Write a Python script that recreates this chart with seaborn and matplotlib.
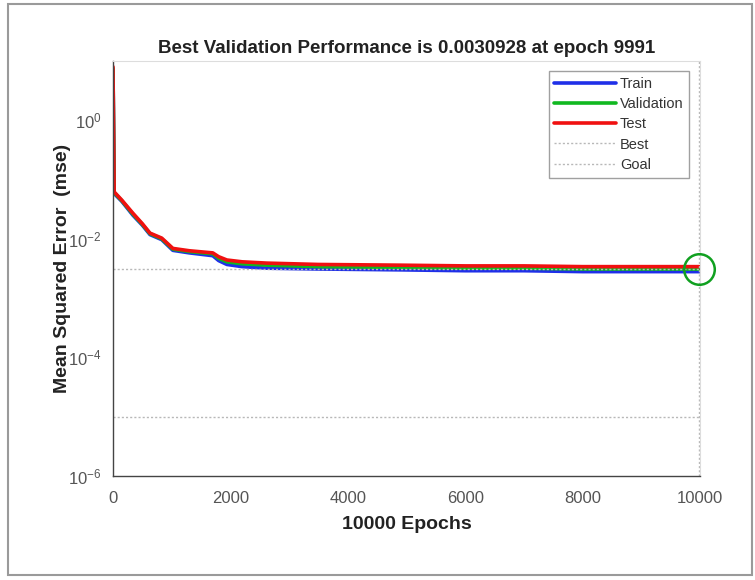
import numpy as np
import pandas as pd
import matplotlib
matplotlib.use("Agg")
import matplotlib.pyplot as plt
from matplotlib.patches import Rectangle
from matplotlib.lines import Line2D
from matplotlib.ticker import FixedLocator, NullFormatter
import seaborn as sns

# Training record of the network (MSE per epoch)
epochs = [0, 20, 150, 340, 500, 630, 830, 1020, 1300, 1700, 1800, 1940,
          2200, 2620, 3500, 4890, 6000, 7000, 8000, 9000, 9991]
train_mse = [7.0, 0.058, 0.043, 0.025, 0.017, 0.0118, 0.0097, 0.0064, 0.0058,
             0.0052, 0.0043, 0.0037, 0.0034, 0.0032, 0.0031, 0.0030, 0.0029,
             0.0029, 0.0028, 0.0028, 0.0028]
val_mse = [7.5, 0.060, 0.044, 0.026, 0.0175, 0.0122, 0.0100, 0.0067, 0.0061,
           0.0056, 0.0047, 0.0041, 0.0038, 0.0036, 0.0034, 0.0033, 0.0032,
           0.0032, 0.0031, 0.0031, 0.0030928]
test_mse = [8.0, 0.062, 0.045, 0.027, 0.018, 0.0125, 0.0103, 0.0069, 0.0063,
            0.0058, 0.0050, 0.0044, 0.0041, 0.0039, 0.0037, 0.0036, 0.0035,
            0.0035, 0.0034, 0.0034, 0.0034]

best_epoch = 9991
best_perf = 0.0030928
goal = 1e-5
max_epochs = 10000

x_ticks = [0, 2000, 4000, 6000, 8000, 10000]
y_ticks = [1e-6, 1e-4, 1e-2, 1e0]
y_tick_labels = [r"$10^{-6}$", r"$10^{-4}$", r"$10^{-2}$", r"$10^{0}$"]

sns.set_theme(style="white")
plt.rcParams["font.family"] = ["Liberation Sans", "DejaVu Sans"]
plt.rcParams["mathtext.fontset"] = "custom"
plt.rcParams["mathtext.rm"] = "Liberation Sans"
plt.rcParams["mathtext.it"] = "Liberation Sans:italic"
plt.rcParams["mathtext.bf"] = "Liberation Sans:bold"

df = pd.DataFrame({
    "epoch": epochs * 3,
    "mse": train_mse + val_mse + test_mse,
    "set": ["Train"] * len(epochs) + ["Validation"] * len(epochs) + ["Test"] * len(epochs),
})
palette = {"Train": "#1f2fe8", "Validation": "#10b820", "Test": "#f01010"}

fig = plt.figure(figsize=(7.55, 5.8), dpi=100)
fig.patch.set_facecolor("white")
ax = fig.add_axes([113 / 755, 1 - 476 / 580, 587 / 755, 415 / 580])

sns.lineplot(data=df, x="epoch", y="mse", hue="set", palette=palette,
             hue_order=["Train", "Validation", "Test"], linewidth=2.6,
             ax=ax, legend=False, estimator=None, sort=False)

ax.set_yscale("log")
ax.set_xlim(0, max_epochs)
ax.set_ylim(1e-6, 1e1)

# best and goal reference lines
ax.axhline(best_perf, color="#b8b8b8", lw=1.0, ls=(0, (1.5, 1.5)))
ax.axvline(best_epoch, color="#b8b8b8", lw=1.0, ls=(0, (1.5, 1.5)))
ax.axhline(goal, color="#b8b8b8", lw=1.0, ls=(0, (1.5, 1.5)))
ax.plot([best_epoch], [best_perf], marker="o", ms=22, mfc="none",
        mec="#10a020", mew=1.8, zorder=5, clip_on=False)

ax.set_xticks(x_ticks)
ax.set_xticklabels([str(t) for t in x_ticks])
ax.yaxis.set_major_locator(FixedLocator(y_ticks))
ax.set_yticklabels(y_tick_labels)
ax.yaxis.set_minor_locator(FixedLocator([1e-5, 1e-3, 1e-1, 1e1]))
ax.yaxis.set_minor_formatter(NullFormatter())
ax.tick_params(axis="both", which="both", direction="in", colors="#555555",
               labelsize=12, labelcolor="#555555")
ax.tick_params(axis="both", which="major", length=4)
ax.tick_params(axis="x", which="major", pad=11)
ax.tick_params(axis="y", which="major", pad=8)
ax.tick_params(axis="y", which="minor", length=3)

for side in ["left", "bottom"]:
    ax.spines[side].set_color("#444444")
    ax.spines[side].set_linewidth(1.0)
for side in ["top", "right"]:
    ax.spines[side].set_color("#dddddd")
    ax.spines[side].set_linewidth(0.8)

ax.set_title("Best Validation Performance is 0.0030928 at epoch 9991",
             fontsize=13.5, fontweight="bold", color="#222222", pad=6)
ax.set_xlabel("10000 Epochs", fontsize=14, fontweight="bold", color="#222222", labelpad=7)
ax.set_ylabel("Mean Squared Error  (mse)", fontsize=14, fontweight="bold",
              color="#222222", labelpad=-2)

handles = [
    Line2D([], [], color=palette["Train"], lw=2.6),
    Line2D([], [], color=palette["Validation"], lw=2.6),
    Line2D([], [], color=palette["Test"], lw=2.6),
    Line2D([], [], color="#b8b8b8", lw=1.0, ls=(0, (1.5, 1.5))),
    Line2D([], [], color="#b8b8b8", lw=1.0, ls=(0, (1.5, 1.5))),
]
leg = ax.legend(handles, ["Train", "Validation", "Test", "Best", "Goal"],
                loc="upper right", bbox_to_anchor=(0.982, 0.975), fontsize=10.5,
                frameon=True, fancybox=False, handlelength=4.2, handletextpad=0.3,
                labelspacing=0.42, borderpad=0.4, borderaxespad=0)
leg.get_frame().set_edgecolor("#888888")
leg.get_frame().set_linewidth(1.0)
for t in leg.get_texts():
    t.set_color("#333333")

# window frame around the figure
fig.add_artist(Rectangle((8 / 755, 1 - 575 / 580), 744 / 755, 571 / 580,
                         transform=fig.transFigure, fill=False,
                         edgecolor="#9a9a9a", lw=1.5))

fig.savefig("out.png", dpi=100, facecolor="white")
